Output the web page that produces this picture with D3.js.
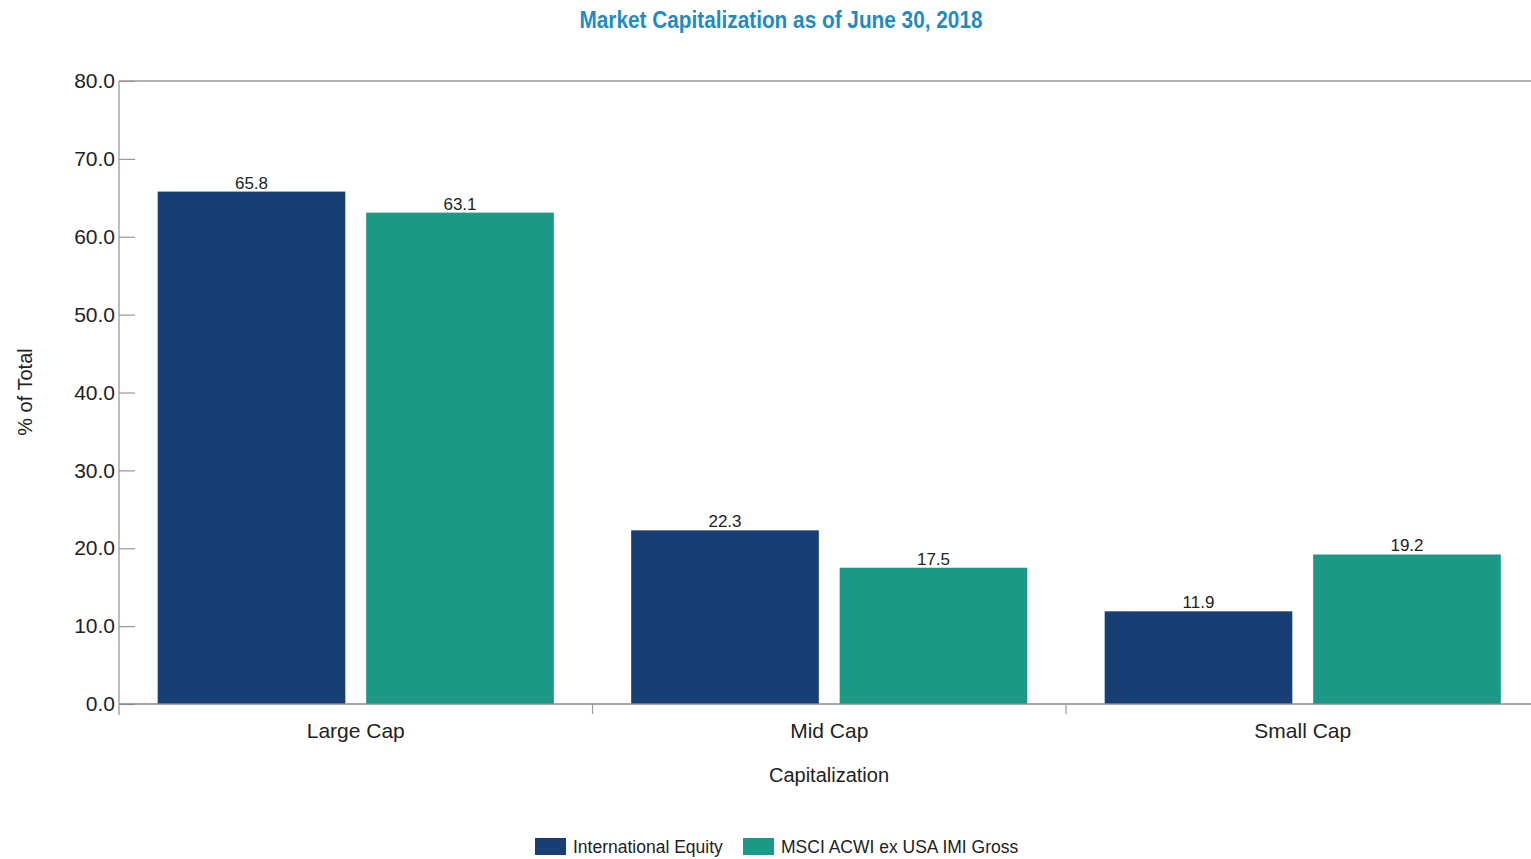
<!DOCTYPE html>
<html><head><meta charset="utf-8">
<script src="https://cdn.jsdelivr.net/npm/d3@7"></script>
<style>
html,body{margin:0;padding:0;background:#fff;overflow:hidden}
text{font-family:"Liberation Sans",Arial,sans-serif;fill:#222}
</style></head>
<body>
<svg id="c" width="1531" height="859"></svg>
<script>
const categories = ["Large Cap", "Mid Cap", "Small Cap"];
const seriesNames = ["International Equity", "MSCI ACWI ex USA IMI Gross"];
const internationalEquity = [65.8, 22.3, 11.9];
const msciAcwiExUsa = [63.1, 17.5, 19.2];
const yTicks = [0, 10, 20, 30, 40, 50, 60, 70, 80];
const colors = ["#183f74", "#1b9986"];

const svg = d3.select("#c");
const plotLeft = 119, plotTop = 81, plotBottom = 704, bandW = 473.5;
const plotRight = plotLeft + bandW * categories.length;

const x0 = d3.scaleBand().domain(categories).range([plotLeft, plotRight]).padding(0);
const x1 = d3.scaleBand().domain(seriesNames).range([0, x0.bandwidth()])
  .paddingInner(0.1).paddingOuter(0.1855);
const y = d3.scaleLinear().domain([0, 80]).range([plotBottom, plotTop]);

const seriesVals = [internationalEquity, msciAcwiExUsa];

// title
svg.append("text").attr("x", 781).attr("y", 28).attr("text-anchor", "middle")
  .attr("font-size", 23).attr("font-weight", "bold")
  .style("fill", "#1f8ac3")
  .style("font-family", "'Liberation Sans Narrow','Arial Narrow','Liberation Sans',sans-serif")
  .attr("textLength", 403).attr("lengthAdjust", "spacingAndGlyphs")
  .text("Market Capitalization as of June 30, 2018");

// top border line
svg.append("line").attr("x1", plotLeft).attr("x2", plotRight).attr("y1", plotTop).attr("y2", plotTop)
  .attr("stroke", "#999").attr("stroke-width", 1.3);

// bars
categories.forEach((c, ci) => {
  seriesNames.forEach((s, si) => {
    const v = seriesVals[si][ci];
    const bx = x0(c) + x1(s);
    svg.append("rect").attr("x", bx).attr("y", y(v))
      .attr("width", x1.bandwidth()).attr("height", y(0) - y(v))
      .attr("fill", colors[si]);
    svg.append("text").attr("x", bx + x1.bandwidth() / 2).attr("y", y(v) - 3)
      .attr("text-anchor", "middle").attr("font-size", 17)
      .text(v.toFixed(1));
  });
});

// y axis
const yAxis = d3.axisRight(y).tickValues(yTicks).tickSize(16).tickFormat(d3.format(".1f"));
const ya = svg.append("g").attr("transform", `translate(${plotLeft},0)`).call(yAxis);
ya.select(".domain").remove();
ya.selectAll(".tick line").attr("stroke", "#999").attr("stroke-width", 1.2);
ya.selectAll(".tick text").attr("x", -4).attr("text-anchor", "end")
  .attr("font-size", 21).style("fill", "#222")
  .style("font-family", "'Liberation Sans',Arial,sans-serif");
svg.append("line").attr("x1", plotLeft).attr("x2", plotLeft).attr("y1", plotTop).attr("y2", plotBottom + 11)
  .attr("stroke", "#999").attr("stroke-width", 1.3);

// x axis
svg.append("line").attr("x1", plotLeft).attr("x2", plotRight).attr("y1", plotBottom).attr("y2", plotBottom)
  .attr("stroke", "#888").attr("stroke-width", 1.3);
categories.slice(1).forEach(c => {
  svg.append("line").attr("x1", x0(c)).attr("x2", x0(c)).attr("y1", plotBottom).attr("y2", plotBottom + 10)
    .attr("stroke", "#999").attr("stroke-width", 1.2);
});
categories.forEach(c => {
  svg.append("text").attr("x", x0(c) + x0.bandwidth() / 2).attr("y", 738)
    .attr("text-anchor", "middle").attr("font-size", 21).text(c);
});

// axis titles
svg.append("text").attr("x", 829).attr("y", 782).attr("text-anchor", "middle")
  .attr("font-size", 20).text("Capitalization");
svg.append("text").attr("transform", "translate(32,392) rotate(-90)")
  .attr("text-anchor", "middle").attr("font-size", 20).text("% of Total");

// legend
const legendX = [535, 743];
seriesNames.forEach((s, i) => {
  svg.append("rect").attr("x", legendX[i]).attr("y", 838).attr("width", 31).attr("height", 17)
    .attr("fill", colors[i]);
  svg.append("text").attr("x", legendX[i] + 38).attr("y", 853).attr("font-size", 17.5).text(s);
});
</script>
</body></html>
